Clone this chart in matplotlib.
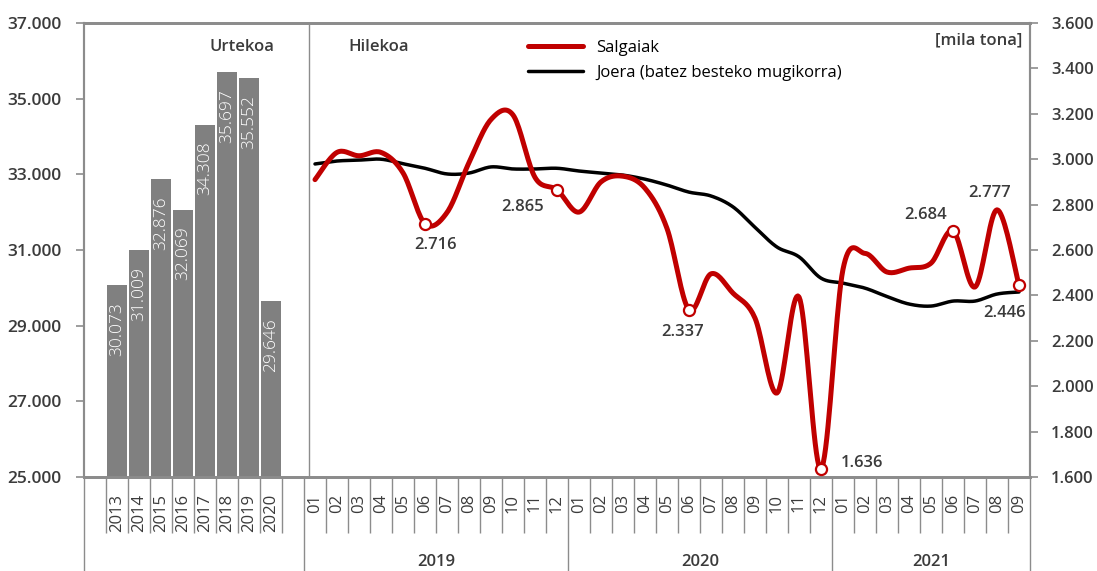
import numpy as np
import matplotlib.pyplot as plt
from matplotlib.ticker import FuncFormatter
from matplotlib.transforms import blended_transform_factory

plt.rcParams['font.family'] = ['Open Sans', 'DejaVu Sans']

# urteko datuak (ezkerreko ardatza)
urteak = ['2013', '2014', '2015', '2016', '2017', '2018', '2019', '2020']
urtekoa = [30073, 31009, 32876, 32069, 34308, 35697, 35552, 29646]

# hileko datuak (eskuineko ardatza)
hilak = ['01', '02', '03', '04', '05', '06', '07', '08', '09', '10', '11', '12',
         '01', '02', '03', '04', '05', '06', '07', '08', '09', '10', '11', '12',
         '01', '02', '03', '04', '05', '06', '07', '08', '09']
taldeak = ['2019', '2020', '2021']
talde_luzera = [12, 12, 9]
salgaiak = [2910, 3030, 3015, 3030, 2940, 2716, 2765, 2985, 3175, 3195, 2920, 2865,
            2767, 2900, 2925, 2872, 2695, 2337, 2495, 2410, 2300, 1970, 2393, 1636,
            2515, 2585, 2503, 2520, 2542, 2684, 2437, 2777, 2446]
joera = [2979, 2992, 2996, 3000, 2980, 2960, 2935, 2939, 2966, 2957, 2957, 2960,
         2948, 2939, 2930, 2912, 2886, 2855, 2838, 2790, 2700, 2613, 2570, 2476,
         2454, 2432, 2395, 2362, 2353, 2375, 2375, 2406, 2415]

# etiketak: indizea -> (dx, dy) pixeletan
etiketak = {5: (11, -21), 11: (-34, -17), 17: (-6, -22), 23: (41, 6),
            29: (-27, 16), 31: (-7, 17), 32: (-14, -28)}
markak = [5, 11, 17, 23, 29, 32]

gorria = '#C00000'
grisa = '#808080'
ardatz = '#8c8c8c'
testua = '#3b3b3b'


def puntuak(v):
    return f'{int(v):,}'.replace(',', '.')


def glatu(x, y, n=20):
    # Excel erako kurba leuna (Bezier, 1/6 tentsioa)
    p = np.column_stack([x, y]).astype(float)
    pp = np.vstack([p[0], p, p[-1]])
    t = np.linspace(0, 1, n)[:, None]
    zatiak = []
    for i in range(len(p) - 1):
        p0, p1 = pp[i + 1], pp[i + 2]
        c1 = p0 + (pp[i + 2] - pp[i]) / 6
        c2 = p1 - (pp[i + 3] - pp[i + 1]) / 6
        b = (1 - t) ** 3 * p0 + 3 * (1 - t) ** 2 * t * c1 + 3 * (1 - t) * t ** 2 * c2 + t ** 3 * p1
        zatiak.append(b if i == 0 else b[1:])
    b = np.vstack(zatiak)
    return b[:, 0], b[:, 1]


fig = plt.figure(figsize=(10.97, 5.71), dpi=100)
ax = fig.add_axes([0.07657, 0.16462, 0.86235, 0.79510])
ax2 = ax.twinx()

# posizioak: hutsunea, 8 urte, hutsunea, 33 hilabete
xb = np.arange(len(urteak)) + 1.5
xh = np.arange(len(hilak)) + len(urteak) + 2.5
ax.set_xlim(0, len(urteak) + 2 + len(hilak))

barrak = ax.bar(xb, urtekoa, width=0.88, color=grisa, zorder=2)
for b, v in zip(barrak, urtekoa):
    ax.annotate(puntuak(v), (b.get_x() + b.get_width() / 2, v), xytext=(0, -17),
                textcoords='offset pixels', rotation=90, ha='center', va='top',
                color='white', fontsize=12.5, fontweight='light')

ax.set_ylim(25000, 37000)
ax.set_yticks(range(25000, 37001, 2000))
ax2.set_ylim(1600, 3600)
ax2.set_yticks(range(1600, 3601, 200))
fmt = FuncFormatter(lambda v, p: puntuak(v))
ax.yaxis.set_major_formatter(fmt)
ax2.yaxis.set_major_formatter(fmt)

sx, sy = glatu(xh, salgaiak)
ax2.plot(sx, sy, color=gorria, lw=3.6, solid_capstyle='round', label='Salgaiak', zorder=3)
jx, jy = glatu(xh, joera)
ax2.plot(jx, jy, color='black', lw=2.5, solid_capstyle='round',
         label='Joera (batez besteko mugikorra)', zorder=2)
ax2.plot(xh[markak], np.array(salgaiak)[markak], 'o', ms=8, mfc='white', mec=gorria,
         mew=1.6, zorder=4, clip_on=False)
for i, (dx, dy) in etiketak.items():
    ax2.annotate(puntuak(salgaiak[i]), (xh[i], salgaiak[i]), xytext=(dx, dy),
                 textcoords='offset pixels', ha='center', va='center',
                 fontsize=12, fontweight='semibold', color=testua)

# ardatzak
for a in (ax, ax2):
    for s in a.spines.values():
        s.set_color(ardatz)
        s.set_linewidth(1.5)
    a.spines['top'].set_linewidth(2)
    a.spines['bottom'].set_linewidth(2)
ax.tick_params(axis='y', length=6, width=1.2, color=ardatz, pad=10, labelsize=12.5,
               labelcolor=testua)
ax2.tick_params(axis='y', length=6, width=1.2, color=ardatz, pad=9, labelsize=12,
                labelcolor=testua)
for l in ax.get_yticklabels() + ax2.get_yticklabels():
    l.set_fontweight('semibold')

# behealdeko kategoriak
ax.set_xticks([])
ax.set_xticks(np.r_[xb, xh], urteak + hilak, minor=True)
ax.tick_params(axis='x', which='minor', length=0, pad=12, labelsize=12,
               labelcolor=testua, labelrotation=90)
tr = blended_transform_factory(ax.transData, ax.transAxes)
luzeak = [0, len(urteak) + 2]
for n in talde_luzera:
    luzeak.append(luzeak[-1] + n)
laburrak = [i for i in range(1, len(urteak) + 2)] + \
           [i for i in range(len(urteak) + 3, luzeak[-1]) if i not in luzeak]
ax.vlines(laburrak, -0.123, 0, transform=tr, color=ardatz, lw=1, clip_on=False)
ax.vlines(luzeak, -0.207, 0, transform=tr, color=ardatz, lw=1, clip_on=False)
for izena, a0, a1 in zip(taldeak, luzeak[1:-1], luzeak[2:]):
    ax.text((a0 + a1) / 2, -0.187, izena, transform=tr, ha='center', va='center',
            fontsize=12, fontweight='semibold', color=testua)

# bereizlea
ax.axvline(len(urteak) + 2.23, color=ardatz, lw=1)

ax.text(0.167, 0.947, 'Urtekoa', transform=ax.transAxes, ha='center', va='center',
        fontsize=12, fontweight='semibold', color=testua)
ax.text(0.279, 0.947, 'Hilekoa', transform=ax.transAxes, ha='left', va='center',
        fontsize=12, fontweight='semibold', color=testua)
ax.text(0.9915, 0.9626, '[mila tona]', transform=ax.transAxes, ha='right', va='center',
        fontsize=12, fontweight='semibold', color=testua)

ax2.legend(loc='upper left', bbox_to_anchor=(528 / 1097, 1 - 40 / 571),
           bbox_transform=fig.transFigure, frameon=False, fontsize=12,
           handlelength=3.3, handletextpad=0.8, labelspacing=0.55, borderpad=0,
           borderaxespad=0)

fig.savefig('out.png', dpi=100)
